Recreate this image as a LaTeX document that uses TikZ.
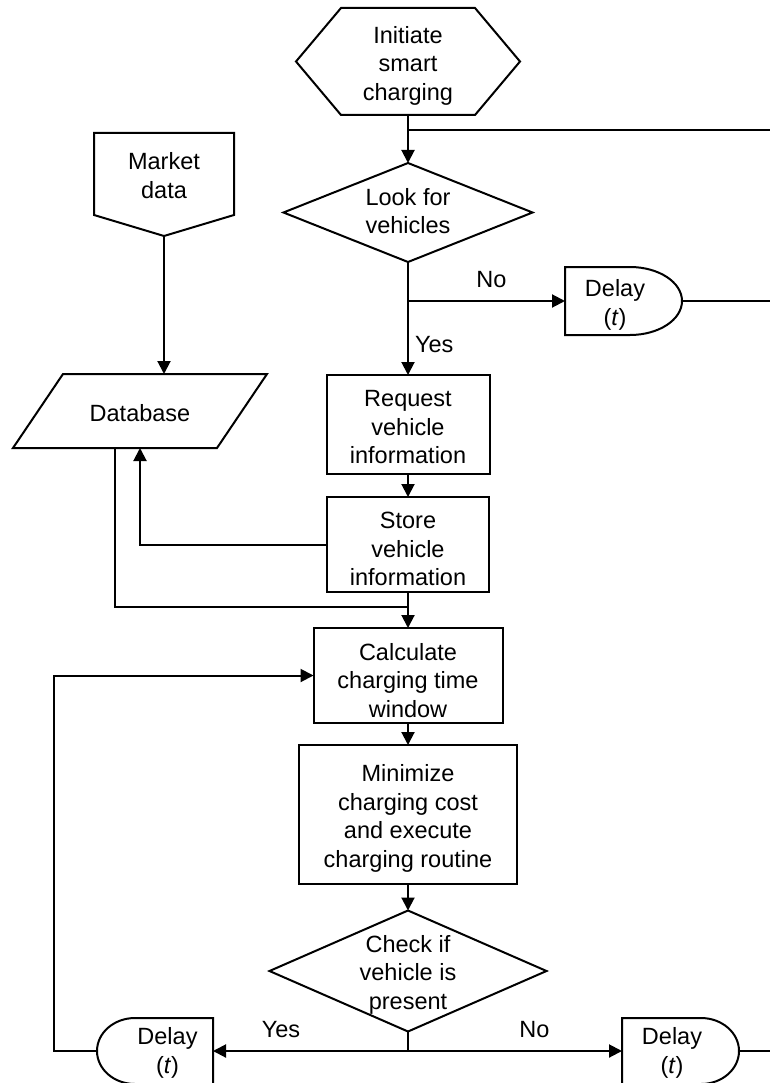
\documentclass[tikz,border=0pt]{standalone}
\usepackage{fontspec}
\setmainfont{Liberation Sans}
\usetikzlibrary{arrows.meta,calc}
\begin{document}
\begin{tikzpicture}[x=1pt,y=-1pt,line width=2pt,
  every node/.style={inner sep=0pt,outer sep=0pt,align=center,
    font=\fontsize{23.5}{28.5}\selectfont},
  sz/.style 2 args={minimum width=#1pt,minimum height=#2pt},
  rect/.style={draw},
  arr/.style={-{Triangle[length=13pt,width=13pt]}},
  lbl/.style={anchor=base}]
\useasboundingbox (0,0) rectangle (770,1083);

% shapes
\node[sz={224}{107}] (init) at (408,61.5) {};
\draw (init.west) -- ($(init.north west)+(45,0)$) -- ($(init.north east)+(-45,0)$)
  -- (init.east) -- ($(init.south east)+(-45,0)$) -- ($(init.south west)+(45,0)$) -- cycle;
\node (initT) at ($(init)+(0,4)$) {Initiate\\smart\\charging};

\node[sz={249}{99}] (look) at (408,212.5) {};
\draw (look.north) -- (look.east) -- (look.south) -- (look.west) -- cycle;
\node (lookT) at ($(look)+(0,-1.5)$) {Look for\\vehicles};

\node[sz={140}{82}] (md) at (164,174) {};
\coordinate (mdtip) at (164,236);
\draw (md.south west) -- (md.north west) -- (md.north east) -- (md.south east) -- (mdtip) -- cycle;
\node (mdT) at ($(md)+(0,1.5)$) {Market\\data};

\node[sz={254}{74}] (db) at (140,411) {};
\draw ($(db.north west)+(50,0)$) -- (db.north east) -- ($(db.south east)+(-50,0)$) -- (db.south west) -- cycle;
\node (dbT) at ($(db)+(0,2.5)$) {Database};

\node[rect,sz={163}{99}] (req) at (408,424.5) {};
\node (reqT) at ($(req)+(0,3)$) {Request\\vehicle\\information};
\node[rect,sz={162}{95}] (store) at (408,544.5) {};
\node (storeT) at ($(store)+(0,4.5)$) {Store\\vehicle\\information};
\node[rect,sz={189}{95}] (calc) at (408,675.5) {};
\node (calcT) at ($(calc)+(0,5)$) {Calculate\\charging time\\window};
\node[rect,sz={218}{139}] (min) at (408,814.5) {};
\node (minT) at ($(min)+(0,4)$) {Minimize\\charging cost\\and execute\\charging routine};

\node[sz={277}{121}] (chk) at (408,971) {};
\draw (chk.north) -- (chk.east) -- (chk.south) -- (chk.west) -- cycle;
\node (chkT) at ($(chk)+(0,3.5)$) {Check if\\vehicle is\\present};

% delays
\node[sz={117}{68}] (d1) at (623.5,301) {};
\draw (d1.north west) -- ($(d1.north east)+(-52,0)$) .. controls +(28.7,0) and +(0,-18.8) .. (d1.east)
  .. controls +(0,18.8) and +(28.7,0) .. ($(d1.south east)+(-52,0)$) -- (d1.south west) -- cycle;
\node (d1T) at (615,305) {Delay\\(\textit{t})};

\node[sz={116}{66}] (d2) at (155,1051) {};
\draw (d2.north east) -- ($(d2.north west)+(38,0)$) .. controls +(-21,0) and +(0,-18.2) .. (d2.west)
  .. controls +(0,18.2) and +(-21,0) .. ($(d2.south west)+(38,0)$) -- (d2.south east) -- cycle;
\node (d2T) at (167.5,1053) {Delay\\(\textit{t})};

\node[sz={117}{66}] (d3) at (680.5,1051) {};
\draw (d3.north west) -- ($(d3.north east)+(-38,0)$) .. controls +(21,0) and +(0,-18.2) .. (d3.east)
  .. controls +(0,18.2) and +(21,0) .. ($(d3.south east)+(-38,0)$) -- (d3.south west) -- cycle;
\node (d3T) at (672,1053) {Delay\\(\textit{t})};

% connectors
\coordinate (rtop) at (772,130);
\coordinate (rmid) at (772,301);
\coordinate (rbot) at (772,1051);
\draw[arr] (init.south) -- (look.north);
\draw (init.south |- rtop) -- (rtop);
\draw[arr] (look.south) -- (req.north);
\draw[arr] (look.south |- d1.west) -- (d1.west);
\draw (d1.east) -- (rmid);
\node[lbl] (no1) at (491.5,287) {No};
\node[anchor=base west] (yes1) at (415,352) {Yes};
\draw[arr] (req.south) -- (store.north);
\draw[arr] (store.west) -| (db.south);
\draw[arr] (store.south) -- (calc.north);
\draw ($(db.south)+(-25,0)$) |- ($(store.south)+(0,15)$);
\draw[arr] (mdtip) -- (mdtip |- db.north);
\draw[arr] (calc.south) -- (min.north);
\draw[arr] (min.south) -- (chk.north);
\draw[arr] (chk.south) |- (d2.east);
\draw[arr] (chk.south) |- (d3.west);
\draw[arr] (d2.west) -- ++(-43,0) |- (calc.west);
\draw (d3.east) -- (rbot);
\node[lbl] (yes2) at (281,1037) {Yes};
\node[lbl] (no2) at (534.5,1037) {No};
\end{tikzpicture}
\end{document}
